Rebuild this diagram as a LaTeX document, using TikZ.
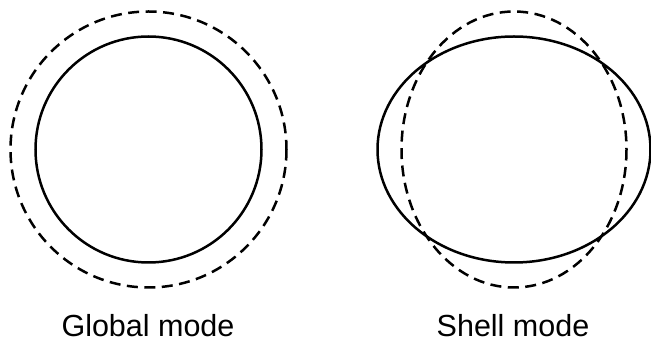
\documentclass[tikz,border=0pt]{standalone}
\usepackage{fontspec}
\setmainfont{Liberation Sans}
\begin{document}
\begin{tikzpicture}[x=1pt,y=-1pt,
  solidring/.style={line width=2.5pt},
  dashring/.style={line width=2.5pt,dash pattern=on 11pt off 6.5pt},
  caption/.style={anchor=base,inner sep=0pt,font=\fontsize{30.5}{36}\selectfont}]
\useasboundingbox (0,0) rectangle (651,344);
\coordinate (gc) at (148.5,149.5);
\coordinate (sc) at (514,149.5);
\draw[dashring] (gc) circle[radius=138];
\draw[solidring] (gc) circle[radius=113];
\draw[dashring] (sc) ellipse[x radius=112.5,y radius=138];
\draw[solidring] (sc) ellipse[x radius=136.5,y radius=113];
\node[caption] (gl) at (148,336.5) {Global mode};
\node[caption] (sl) at (513,336.5) {Shell mode};
\end{tikzpicture}
\end{document}
